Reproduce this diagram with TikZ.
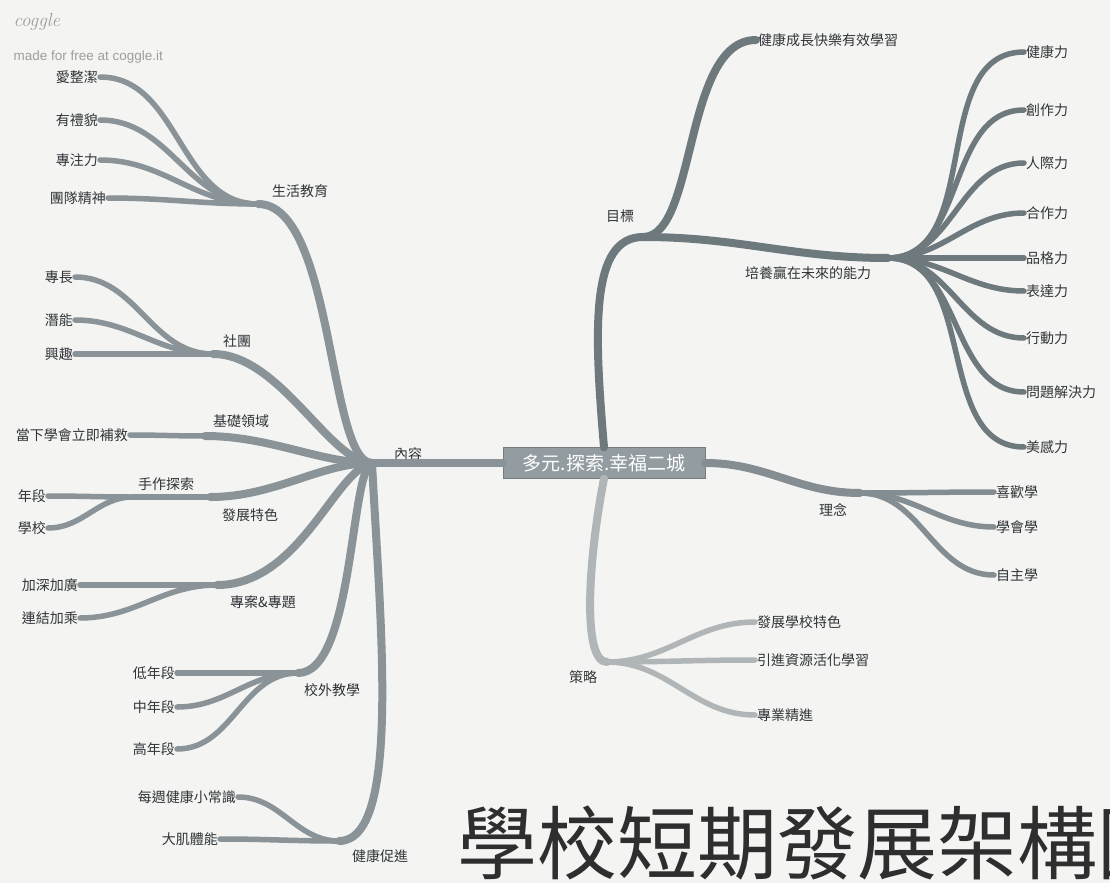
\documentclass[tikz,border=0pt]{standalone}
\usepackage{fontspec}
\newfontfamily\cjk{Noto Sans CJK TC}
\newfontfamily\logo{Liberation Sans}
\definecolor{paper}{RGB}{244,244,242}
\definecolor{leftgrey}{RGB}{138,147,151}
\definecolor{goalgrey}{RGB}{110,121,126}
\definecolor{ideagrey}{RGB}{132,141,145}
\definecolor{plangrey}{RGB}{176,181,183}
\definecolor{coregrey}{RGB}{147,156,160}
\definecolor{ink}{RGB}{48,53,56}
\tikzset{
  lab/.style={font=\cjk\fontsize{14}{16}\selectfont, text=ink, inner sep=2pt},
  trunk/.style={line width=8pt, line cap=round},
  twig/.style={line width=5.5pt, line cap=round},
}
\begin{document}
\begin{tikzpicture}[x=1pt,y=-1pt]
    \useasboundingbox (0,0) rectangle (1110,883);
    \fill[paper] (0,0) rectangle (1110,883);
    % logo
    \node[font=\itshape\fontsize{19}{20}\selectfont, text=black!38, anchor=west] (cg) at (10,22) {coggle};
    \node[font=\logo\fontsize{13.5}{15}\selectfont, text=black!38, anchor=west] (cgurl) at (10,57) {made for free at coggle.it};
    % centre
    \node[fill=coregrey, draw=coregrey!80!black, minimum width=202pt, minimum height=31pt, text=white, font=\cjk\fontsize{19}{21}\selectfont] (core) at (604,463) {多元.探索.幸福二城};
    % left: content
    \coordinate (nrhub) at (372,463);
    \node[lab] (neirong) at (408,454) {內容};
    \draw[trunk, leftgrey] (core.west) -- (nrhub);
    \coordinate (shp) at (258,204);
    \node[lab] (shenghuo) at (300,191) {生活教育};
    \coordinate (stp) at (213,354);
    \node[lab] (shetuan) at (237,341) {社團};
    \coordinate (jcp) at (205,436);
    \node[lab] (jichu) at (241,421) {基礎領域};
    \coordinate (fzp) at (210,497);
    \node[lab] (fazhan) at (250,515) {發展特色};
    \coordinate (hzp) at (133,497);
    \node[lab] (shouzuo) at (166,484) {手作探索};
    \coordinate (zap) at (217,585);
    \node[lab] (zhuanan) at (263,602) {專案\&專題};
    \coordinate (xwp) at (298,673);
    \node[lab] (xiaowai) at (332,690) {校外教學};
    \coordinate (jkp) at (339,841);
    \node[lab] (jiankang) at (380,856) {健康促進};
    \draw[trunk, leftgrey] (nrhub) .. controls (328,463) and (334,204) .. (shp);
    \draw[trunk, leftgrey] (nrhub) .. controls (330,463) and (280,354) .. (stp);
    \draw[trunk, leftgrey] (nrhub) .. controls (320,463) and (270,436) .. (jcp);
    \draw[trunk, leftgrey] (nrhub) .. controls (320,463) and (275,497) .. (fzp);
    \draw[trunk, leftgrey] (nrhub) .. controls (335,470) and (300,585) .. (zap);
    \draw[trunk, leftgrey] (nrhub) .. controls (350,470) and (354,673) .. (xwp);
    \draw[trunk, leftgrey] (nrhub) .. controls (380,620) and (402,841) .. (jkp);
    % left leaves
    \node[lab, anchor=east] (aizj) at (100,77) {愛整潔};
    \node[lab, anchor=east] (youlm) at (100,120) {有禮貌};
    \node[lab, anchor=east] (zhuanzl) at (100,160) {專注力};
    \node[lab, anchor=east] (tuandui) at (108,198) {團隊精神};
    \draw[twig, leftgrey] (shp) to[out=180,in=0] (aizj.east);
    \draw[twig, leftgrey] (shp) to[out=180,in=0] (youlm.east);
    \draw[twig, leftgrey] (shp) to[out=180,in=0] (zhuanzl.east);
    \draw[twig, leftgrey] (shp) to[out=180,in=0] (tuandui.east);
    \node[lab, anchor=east] (zhuanc) at (75,277) {專長};
    \node[lab, anchor=east] (qianneng) at (75,320) {潛能};
    \node[lab, anchor=east] (xingqu) at (75,354) {興趣};
    \draw[twig, leftgrey] (stp) to[out=180,in=0] (zhuanc.east);
    \draw[twig, leftgrey] (stp) to[out=180,in=0] (qianneng.east);
    \draw[twig, leftgrey] (stp) to[out=180,in=0] (xingqu.east);
    \node[lab, anchor=east] (dangxia) at (130,435) {當下學會立即補救};
    \draw[twig, leftgrey] (jcp) to[out=180,in=0] (dangxia.east);
    \draw[twig, leftgrey] (fzp) -- (hzp);
    \node[lab, anchor=east] (nianduan) at (48,496) {年段};
    \node[lab, anchor=east] (xuexiao) at (48,528) {學校};
    \draw[twig, leftgrey] (hzp) to[out=180,in=0] (nianduan.east);
    \draw[twig, leftgrey] (hzp) to[out=180,in=0] (xuexiao.east);
    \node[lab, anchor=east] (jiashen) at (80,585) {加深加廣};
    \node[lab, anchor=east] (lianjie) at (80,618) {連結加乘};
    \draw[twig, leftgrey] (zap) to[out=180,in=0] (jiashen.east);
    \draw[twig, leftgrey] (zap) to[out=180,in=0] (lianjie.east);
    \node[lab, anchor=east] (dinian) at (177,673) {低年段};
    \node[lab, anchor=east] (zhongnian) at (177,707) {中年段};
    \node[lab, anchor=east] (gaonian) at (177,749) {高年段};
    \draw[twig, leftgrey] (xwp) to[out=180,in=0] (dinian.east);
    \draw[twig, leftgrey] (xwp) to[out=180,in=0] (zhongnian.east);
    \draw[twig, leftgrey] (xwp) to[out=180,in=0] (gaonian.east);
    \node[lab, anchor=east] (meizhou) at (238,797) {每週健康小常識};
    \node[lab, anchor=east] (daji) at (220,839) {大肌體能};
    \draw[twig, leftgrey] (jkp) to[out=180,in=0] (meizhou.east);
    \draw[twig, leftgrey] (jkp) to[out=180,in=0] (daji.east);
    % right: goals
    \coordinate (mbp) at (643,237);
    \node[lab] (mubiao) at (620,216) {目標};
    \draw[trunk, goalgrey] (core.north) .. controls (594,330) and (590,237) .. (mbp);
    \node[lab, anchor=west] (jkcz) at (756,40) {健康成長快樂有效學習};
    \draw[trunk, goalgrey] (mbp) .. controls (697,237) and (683,40) .. (jkcz.west);
    \coordinate (pyp) at (888,258);
    \node[lab] (peiyang) at (808,273) {培養贏在未來的能力};
    \draw[trunk, goalgrey] (mbp) to[out=0,in=180] (pyp);
    \node[lab, anchor=west] (jkl) at (1024,52) {健康力};
    \node[lab, anchor=west] (czl) at (1024,110) {創作力};
    \node[lab, anchor=west] (rjl) at (1024,163) {人際力};
    \node[lab, anchor=west] (hzl) at (1024,213) {合作力};
    \node[lab, anchor=west] (pgl) at (1024,258) {品格力};
    \node[lab, anchor=west] (bdl) at (1024,291) {表達力};
    \node[lab, anchor=west] (xdl) at (1024,338) {行動力};
    \node[lab, anchor=west] (wtl) at (1024,392) {問題解決力};
    \node[lab, anchor=west] (mgl) at (1024,447) {美感力};
    \draw[twig, goalgrey] (pyp) to[out=0,in=180] (jkl.west);
    \draw[twig, goalgrey] (pyp) to[out=0,in=180] (czl.west);
    \draw[twig, goalgrey] (pyp) to[out=0,in=180] (rjl.west);
    \draw[twig, goalgrey] (pyp) to[out=0,in=180] (hzl.west);
    \draw[twig, goalgrey] (pyp) to[out=0,in=180] (pgl.west);
    \draw[twig, goalgrey] (pyp) to[out=0,in=180] (bdl.west);
    \draw[twig, goalgrey] (pyp) to[out=0,in=180] (xdl.west);
    \draw[twig, goalgrey] (pyp) to[out=0,in=180] (wtl.west);
    \draw[twig, goalgrey] (pyp) to[out=0,in=180] (mgl.west);
    % right: ideas
    \coordinate (lnp) at (860,493);
    \node[lab] (linian) at (833,510) {理念};
    \draw[trunk, ideagrey] (core.east) to[out=0,in=180] (lnp);
    \node[lab, anchor=west] (xihuan) at (994,492) {喜歡學};
    \node[lab, anchor=west] (xuehui) at (994,527) {學會學};
    \node[lab, anchor=west] (zizhu) at (994,575) {自主學};
    \draw[twig, ideagrey] (lnp) to[out=0,in=180] (xihuan.west);
    \draw[twig, ideagrey] (lnp) to[out=0,in=180] (xuehui.west);
    \draw[twig, ideagrey] (lnp) to[out=0,in=180] (zizhu.west);
    % right: strategy
    \coordinate (clp) at (607,662);
    \node[lab] (celue) at (583,677) {策略};
    \draw[trunk, plangrey] (core.south) .. controls (588,560) and (582,662) .. (clp);
    \node[lab, anchor=west] (fzts) at (755,622) {發展學校特色};
    \node[lab, anchor=west] (yinjin) at (755,660) {引進資源活化學習};
    \node[lab, anchor=west] (zhuanye) at (755,715) {專業精進};
    \draw[twig, plangrey] (clp) to[out=0,in=180] (fzts.west);
    \draw[twig, plangrey] (clp) to[out=0,in=180] (yinjin.west);
    \draw[twig, plangrey] (clp) to[out=0,in=180] (zhuanye.west);
    % title
    \node[font=\cjk\fontsize{80}{80}\selectfont, text=black!82, anchor=base west, inner sep=0] (title) at (457,873) {學校短期發展架構圖};
\end{tikzpicture}
\end{document}
